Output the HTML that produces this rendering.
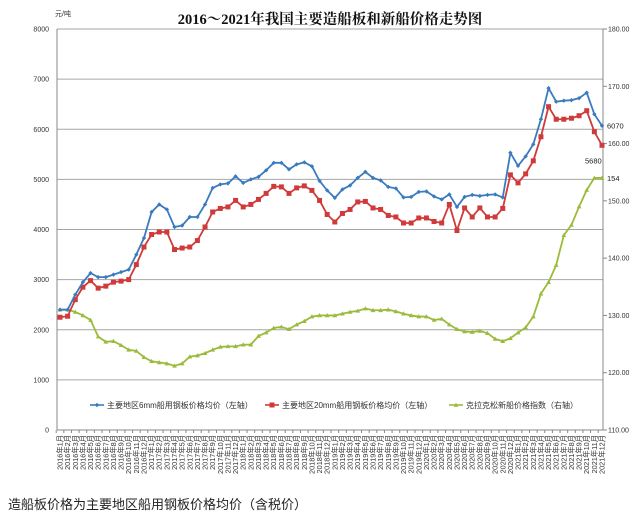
<!DOCTYPE html>
<html><head><meta charset="utf-8"><style>
body{margin:0;background:#fff;}
svg{display:block;font-family:"Liberation Sans","Noto Sans CJK SC",sans-serif;}
</style></head><body>
<svg id="c" width="640" height="514" viewBox="0 0 640 514">
<text x="330" y="24" text-anchor="middle" font-size="14.5" font-weight="bold" fill="#111" font-family="'Liberation Serif','Noto Serif CJK SC',serif">2016～2021年我国主要造船板和新船价格走势图</text>
<text x="55" y="16" font-size="7" fill="#333">元/吨</text>
<text x="8" y="509" font-size="13" fill="#222">造船板价格为主要地区船用钢板价格均价（含税价）</text>
<g id="grid"></g><g id="axes"></g><g id="series"></g><g id="legend"></g>
</svg>
<script>
const years=[2016,2017,2018,2019,2020,2021];
const leftTicks=[0,1000,2000,3000,4000,5000,6000,7000,8000];
const rightTicks=[110,120,130,140,150,160,170,180];
const plate6mm=[2400,2400,2700,2950,3130,3050,3050,3100,3150,3200,3500,3830,
4350,4500,4400,4050,4080,4250,4250,4500,4830,4900,4920,5060,
4930,5000,5050,5180,5330,5330,5200,5300,5340,5260,4970,4780,
4630,4800,4880,5030,5150,5030,4980,4850,4820,4640,4650,4750,
4760,4660,4600,4700,4450,4650,4690,4670,4690,4700,4640,5530,
5270,5460,5700,6200,6820,6550,6570,6580,6620,6730,6300,6070];
const plate20mm=[2250,2270,2600,2850,2980,2830,2870,2950,2970,3000,3300,3650,
3900,3950,3950,3600,3630,3650,3780,4050,4350,4420,4450,4580,
4450,4500,4600,4720,4860,4850,4720,4830,4870,4780,4580,4300,
4150,4320,4400,4550,4560,4430,4400,4280,4250,4130,4130,4230,
4230,4160,4130,4500,3980,4430,4250,4430,4250,4250,4420,5090,
4930,5110,5370,5850,6450,6200,6200,6220,6270,6370,5950,5680];
const clarksonIndex=[131,131,130.6,130,129.2,126.3,125.4,125.5,124.8,124,123.8,122.7,
122,121.8,121.6,121.2,121.6,122.8,123,123.4,124,124.5,124.6,124.6,
124.9,124.9,126.4,127,127.8,128,127.6,128.4,129,129.8,130,130,
130,130.3,130.6,130.8,131.2,130.9,130.9,131,130.7,130.3,130,129.8,
129.8,129.2,129.4,128.4,127.6,127.2,127.1,127.3,126.9,125.9,125.5,126,
127,127.9,129.8,133.8,135.8,138.8,144,145.8,149,151.9,154,154];
const NS="http://www.w3.org/2000/svg";
const X0=57,X1=603,Y0=430,Y1=29,n=plate6mm.length;
const px=i=>60+i*(602-60)/(n-1);
const yL=v=>Y0-(v-0)/(8000-0)*(Y0-Y1);
const yR=v=>Y0-(v-110)/(180-110)*(Y0-Y1);
function mk(tag,attrs,parent){const e=document.createElementNS(NS,tag);for(const k in attrs)e.setAttribute(k,attrs[k]);parent.appendChild(e);return e;}
const grid=document.getElementById('grid'),axes=document.getElementById('axes'),series=document.getElementById('series'),legend=document.getElementById('legend');
leftTicks.forEach(t=>{
 if(t>0){const g=mk('line',{x1:X0,x2:X1,y1:yL(t),y2:yL(t),stroke:'#a6a6a6','stroke-width':1},grid);
 
 }
 const l=mk('text',{x:X0-8,y:yL(t)+2.5,'text-anchor':'end','font-size':7,fill:'#333'},axes);l.textContent=t;
 
 
});
rightTicks.forEach(t=>{
 mk('line',{x1:X1,x2:X1+4,y1:yR(t),y2:yR(t),stroke:'#888'},axes);
 const l=mk('text',{x:X1+5,y:yR(t)+2.5,'font-size':7,fill:'#333'},axes);l.textContent=t.toFixed(2);
 
 
});
mk('line',{x1:X0,x2:X0,y1:Y1,y2:Y0,stroke:'#888'},axes);
mk('line',{x1:X1,x2:X1,y1:Y1,y2:Y0,stroke:'#888'},axes);
mk('line',{x1:X0,x2:X1,y1:Y0,y2:Y0,stroke:'#888'},axes);
for(let i=0;i<n;i++){
 const yr=years[Math.floor(i/12)],m=i%12+1;
 mk('line',{x1:px(i)-3.8,x2:px(i)-3.8,y1:Y0,y2:Y0+3,stroke:'#888'},axes);
 const t=mk('text',{x:0,y:0,'font-size':7.3,fill:'#333','text-anchor':'end',transform:`translate(${px(i)+2.5},${Y0+5}) rotate(-90)`},axes);
 t.textContent=yr+'年'+m+'月';
 
 
}
function marker(type,x,y,color,p){
 if(type==='d')return mk('path',{d:`M${x} ${y-2.2}L${x+2.2} ${y}L${x} ${y+2.2}L${x-2.2} ${y}Z`,fill:color},p);
 if(type==='s')return mk('rect',{x:x-2.5,y:y-2.5,width:5,height:5,fill:color},p);
 return mk('path',{d:`M${x} ${y-2.4}L${x+2.4} ${y+1.8}L${x-2.4} ${y+1.8}Z`,fill:color},p);
}
function drawSeries(data,scale,color,type,name){
 const g=mk('g',{},series);
 
 
 mk('polyline',{points:data.map((v,i)=>px(i)+','+scale(v)).join(' '),fill:'none',stroke:color,'stroke-width':1.8},g);
 data.forEach((v,i)=>{const m=marker(type,px(i),scale(v),color,g);
  
  });
}
drawSeries(clarksonIndex,yR,'#9bbb3b','t','clarkson-index-series');
drawSeries(plate20mm,yL,'#d03a3a','s','plate-20mm-series');
drawSeries(plate6mm,yL,'#3a7bbf','d','plate-6mm-series');
const lbl=[[plate6mm[n-1],yL,'6070',607,3],[plate20mm[n-1],yL,'5680',585,18],[clarksonIndex[n-1],yR,'154',607,3]];
lbl.forEach(a=>{const t=mk('text',{x:a[3],y:a[1](a[0])+a[4],'font-size':7.5,fill:'#222'},series);t.textContent=a[2];
 
 });
const leg=[['主要地区6mm船用钢板价格均价（左轴）','#3a7bbf','d',90],['主要地区20mm船用钢板价格均价（左轴）','#d03a3a','s',265],['克拉克松新船价格指数（右轴）','#9bbb3b','t',449]];
leg.forEach(a=>{const g=mk('g',{},legend);
 
 
 mk('line',{x1:a[3],x2:a[3]+14,y1:405,y2:405,stroke:a[1],'stroke-width':1.6},g);
 marker(a[2],a[3]+7,405,a[1],g);
 const t=mk('text',{x:a[3]+17,y:408,'font-size':8,fill:'#333'},g);t.textContent=a[0];});
</script>
</body></html>
